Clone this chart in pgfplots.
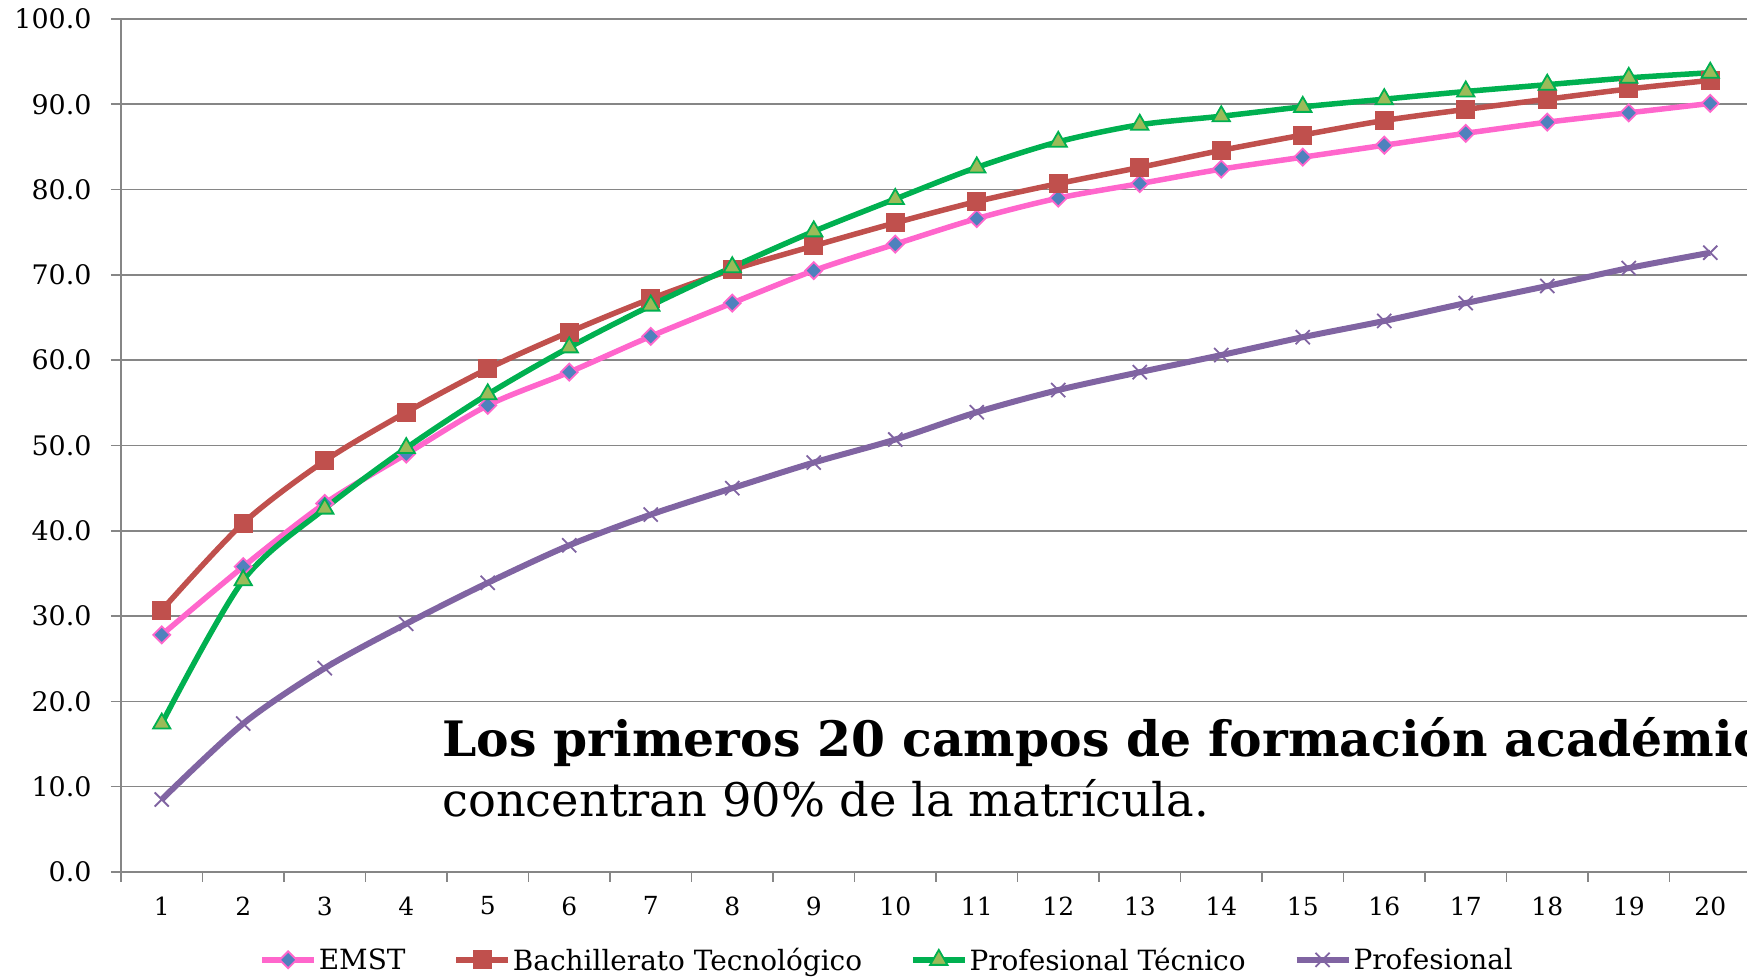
\documentclass[border=0pt]{standalone}
\usepackage{pgfplots}
\usepackage{pgfplotstable}
\pgfplotsset{compat=1.18}
\usepackage{fontspec}
\setmainfont{DejaVu Serif}
\definecolor{gridgray}{RGB}{134,134,134}
\definecolor{emstpink}{RGB}{255,102,204}
\definecolor{emstblue}{RGB}{79,129,189}
\definecolor{bachred}{RGB}{192,80,77}
\definecolor{ptgreen}{RGB}{0,176,80}
\definecolor{ptfill}{RGB}{155,187,89}
\definecolor{profpurple}{RGB}{128,100,162}

\pgfplotstableread{
x emst bach ptec prof
1  27.8 30.7 17.4 8.5
2  35.8 40.9 34.2 17.4
3  43.2 48.2 42.6 23.9
4  49.0 53.9 49.7 29.1
5  54.7 59.0 56.0 33.9
6  58.6 63.3 61.5 38.3
7  62.8 67.2 66.4 41.9
8  66.7 70.6 70.9 45.0
9  70.5 73.4 75.1 48.0
10 73.6 76.1 78.9 50.7
11 76.6 78.6 82.6 53.9
12 79.0 80.7 85.6 56.5
13 80.7 82.6 87.6 58.6
14 82.4 84.6 88.6 60.6
15 83.8 86.4 89.7 62.7
16 85.2 88.1 90.6 64.6
17 86.6 89.4 91.5 66.7
18 87.9 90.6 92.3 68.7
19 89.0 91.8 93.1 70.8
20 90.1 92.8 93.7 72.6
}\datatable

\begin{document}
\begin{tikzpicture}
\begin{axis}[
  scale only axis, width=1630bp, height=853bp,
  xmin=0.5, xmax=20.5, ymin=0, ymax=100,
  axis x line*=bottom, axis y line*=left,
  axis line style={gridgray, line width=1.6bp},
  ymajorgrids, grid style={gridgray, line width=1.6bp},
  tick align=outside,
  major tick length=0bp,
  minor tick length=10bp,
  tick style={gridgray, line width=1.6bp},
  ytick={0,10,...,100},
  minor ytick={0,10,...,100},
  yticklabels={0.0,10.0,20.0,30.0,40.0,50.0,60.0,70.0,80.0,90.0,100.0},
  yticklabel style={font=\fontsize{27}{30}\selectfont, black, xshift=-26bp},
  xtick={1,2,...,20},
  minor xtick={0.5,1.5,...,20.5},
  xticklabels={1,2,3,4,5,6,7,8,9,10,11,12,13,14,15,16,17,18,19,20},
  xticklabel style={font=\fontsize{25}{28}\selectfont, black, yshift=-21bp},
  legend columns=4,
  legend style={at={(0.470,-0.103)}, anchor=center, draw=none, fill=none,
    font=\fontsize{28}{32}\selectfont,
    /tikz/every even column/.append style={column sep=46bp}},
  legend image code/.code={\draw[mark repeat=2,mark phase=2] plot coordinates {(0bp,0bp)(26bp,0bp)(52bp,0bp)};},
]
\addplot[emstpink, line width=5.5bp, smooth, tension=0.5, mark=square*, mark size=6bp,
  mark options={rotate=45, fill=emstblue, draw=emstpink, line width=1.8bp}] table[x=x,y=emst]{\datatable};
\addlegendentry{EMST}
\addplot[bachred, line width=5.5bp, smooth, tension=0.5, mark=square*, mark size=9bp,
  mark options={fill=bachred, draw=bachred, line width=1bp}] table[x=x,y=bach]{\datatable};
\addlegendentry{Bachillerato Tecnológico}
\addplot[ptgreen, line width=5.5bp, smooth, tension=0.5, mark=triangle*, mark size=10bp,
  mark options={fill=ptfill, draw=ptgreen, line width=1.8bp}] table[x=x,y=ptec]{\datatable};
\addlegendentry{Profesional Técnico}
\addplot[profpurple, line width=6bp, smooth, tension=0.5, mark=x, mark size=10bp,
  mark options={draw=profpurple, line width=1.8bp}] table[x=x,y=prof]{\datatable};
\addlegendentry{Profesional}
\node[anchor=base west, inner sep=0pt, font=\bfseries\fontsize{49}{56}\selectfont] at (axis cs:4.44,13.5) {Los primeros 20 campos de formación académica};
\node[anchor=base west, inner sep=0pt, font=\fontsize{46.5}{54}\selectfont] at (axis cs:4.44,6.45) {concentran 90\% de la matrícula.};
\end{axis}
\pgfresetboundingbox
\useasboundingbox (-121bp,-105bp) rectangle (1626bp,872bp);
\end{tikzpicture}
\end{document}
